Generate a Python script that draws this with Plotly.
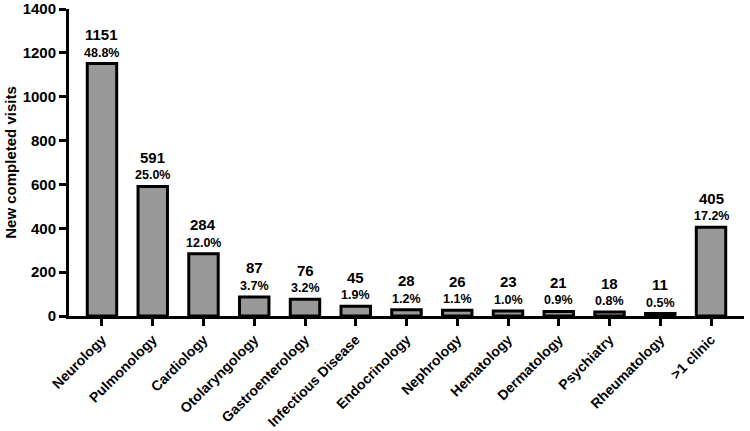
import plotly.graph_objects as go

categories = ["Neurology", "Pulmonology", "Cardiology", "Otolaryngology", "Gastroenterology",
              "Infectious Disease", "Endocrinology", "Nephrology", "Hematology", "Dermatology",
              "Psychiatry", "Rheumatology", ">1 clinic"]
visits = [1151, 591, 284, 87, 76, 45, 28, 26, 23, 21, 18, 11, 405]
percents = ["48.8%", "25.0%", "12.0%", "3.7%", "3.2%", "1.9%", "1.2%", "1.1%", "1.0%",
            "0.9%", "0.8%", "0.5%", "17.2%"]
y_ticks = [0, 200, 400, 600, 800, 1000, 1200, 1400]

FONT = "Arial, Liberation Sans, sans-serif"

fig = go.Figure()
fig.add_trace(go.Bar(
    x=list(range(len(categories))), y=visits,
    width=0.58,
    marker=dict(color="#999999", line=dict(color="black", width=3)),
    hoverinfo="skip",
))

annotations = []
for i, (v, p) in enumerate(zip(visits, percents)):
    annotations.append(dict(x=i, y=v, text=f"<b>{v}</b>", showarrow=False,
                            yshift=29, font=dict(size=15, color="black", family=FONT)))
    annotations.append(dict(x=i, y=v, text=f"<b>{p}</b>", showarrow=False,
                            yshift=11, font=dict(size=12.5, color="black", family=FONT)))

fig.update_layout(
    width=750, height=431,
    margin=dict(l=69, r=6, t=9, b=115),
    plot_bgcolor="white", paper_bgcolor="white",
    showlegend=False,
    annotations=annotations,
    font=dict(family=FONT, color="black"),
    xaxis=dict(
        range=[-0.65, 12.65],
        automargin=False,
        tickmode="array", tickvals=list(range(len(categories))),
        ticktext=[f"<b>{c}</b>" for c in categories],
        tickangle=-45,
        ticks="outside", ticklen=7, tickwidth=3, tickcolor="black",
        showline=True, linewidth=3, linecolor="black",
        showgrid=False, zeroline=False,
        tickfont=dict(size=14, family=FONT, color="black"),
    ),
    yaxis=dict(
        range=[0, 1400],
        automargin=False,
        ticklabeloverflow="allow",
        tickmode="array", tickvals=y_ticks,
        ticktext=[f"<b>{t}</b>" for t in y_ticks],
        ticks="outside", ticklen=7, tickwidth=3, tickcolor="black",
        showline=True, linewidth=3, linecolor="black",
        showgrid=False, zeroline=False,
        tickfont=dict(size=15, family=FONT, color="black"),
        title=dict(text="<b>New completed visits</b>", font=dict(size=15, family=FONT, color="black"),
                   standoff=3),
    ),
)

fig.write_html("out.html",
               config={"displayModeBar": False, "staticPlot": True},
               post_script="document.body.style.margin='0';document.body.style.overflow='hidden';")
